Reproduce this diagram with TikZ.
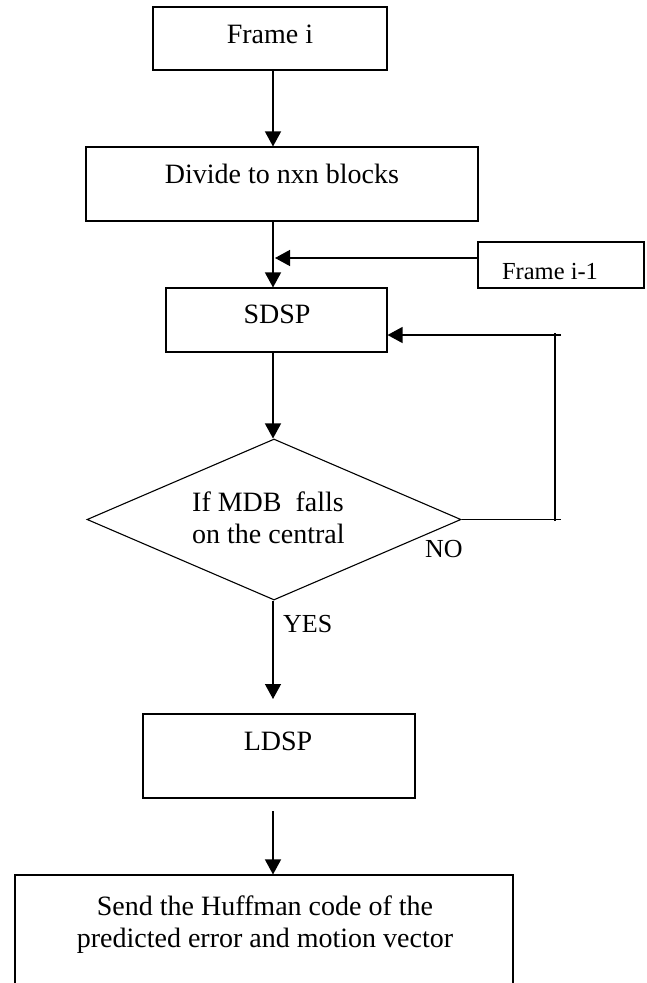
\documentclass[tikz,border=0pt]{standalone}
\usepackage{fontspec}
\setmainfont{Liberation Serif}
\usetikzlibrary{shapes.geometric,arrows.meta}
\begin{document}
\begin{tikzpicture}[x=1pt,y=-1pt,
  box/.style={draw=black, line width=1.1pt, rectangle, inner sep=0pt},
  txt/.style={inner sep=0pt, font=\fontsize{28}{32}\selectfont, anchor=base},
  lbl/.style={inner sep=0pt, font=\fontsize{26}{30}\selectfont, anchor=base west},
  arr/.style={line width=1.3pt, -{Triangle[width=16pt,length=15pt]}},
  ln/.style={line width=1.3pt}]
\clip (0,0) rectangle (647,983);
\fill[white] (0,0) rectangle (647,983);
% boxes
\node[box, minimum width=234pt, minimum height=63pt] (fi) at (270,38.5) {};
\node[box, minimum width=392pt, minimum height=74pt] (div) at (282,184) {};
\node[box, minimum width=166pt, minimum height=46pt] (fim) at (561,265) {};
\node[box, minimum width=221pt, minimum height=64pt] (sdsp) at (276.5,320) {};
\node[box, draw, diamond, shape aspect=2.32, minimum width=374pt, minimum height=161pt] (dia) at (274,519.5) {};
\node[box, minimum width=272pt, minimum height=84pt] (ldsp) at (279,756) {};
\node[box, minimum width=498pt, minimum height=125pt] (send) at (264,937.5) {};
% texts
\node[txt] (tfi) at (270,43) {Frame i};
\node[txt] (tdiv) at (282,183) {Divide to nxn blocks};
\node[txt, font=\fontsize{24.5}{28}\selectfont] (tfim) at (550,279) {Frame i-1};
\node[txt] (tsdsp) at (277,323) {SDSP};
\node[txt, anchor=base west] (tdia) at (192,511) {\begin{tabular}[t]{@{}l@{}}If MDB~ falls\\on the central\end{tabular}};
\node[txt] (tldsp) at (278,750) {LDSP};
\node[txt] (tsend) at (265,915) {\begin{tabular}[t]{@{}c@{}}Send the Huffman code of the\\predicted error and motion vector\end{tabular}};
\node[lbl] (no) at (425,557) {NO};
\node[lbl] (yes) at (283,632) {YES};
% helper coordinates
\coordinate (ax) at (273,0);
\coordinate (j) at (275,258);
\coordinate (t1) at (273,699);
\coordinate (s2) at (273,811);
\coordinate (fbA) at (561,519.5);
\coordinate (fbB) at (555,521);
\coordinate (fbC) at (555,333);
\coordinate (fbD) at (561,335);
% connectors
\draw[arr] (fi.south -| ax) -- (div.north -| ax);
\draw[arr] (div.south -| ax) -- (sdsp.north -| ax);
\draw[arr] (fim.west |- j) -- (j);
\draw[arr] (sdsp.south -| ax) -- (dia.north -| ax);
\draw[ln] (dia.east) -- (fbA);
\draw[ln] (fbB) -- (fbC);
\draw[arr] (fbD) -- (sdsp.east |- fbD);
\draw[arr] (dia.south -| ax) -- (t1);
\draw[arr] (s2) -- (send.north -| ax);
\end{tikzpicture}
\end{document}
